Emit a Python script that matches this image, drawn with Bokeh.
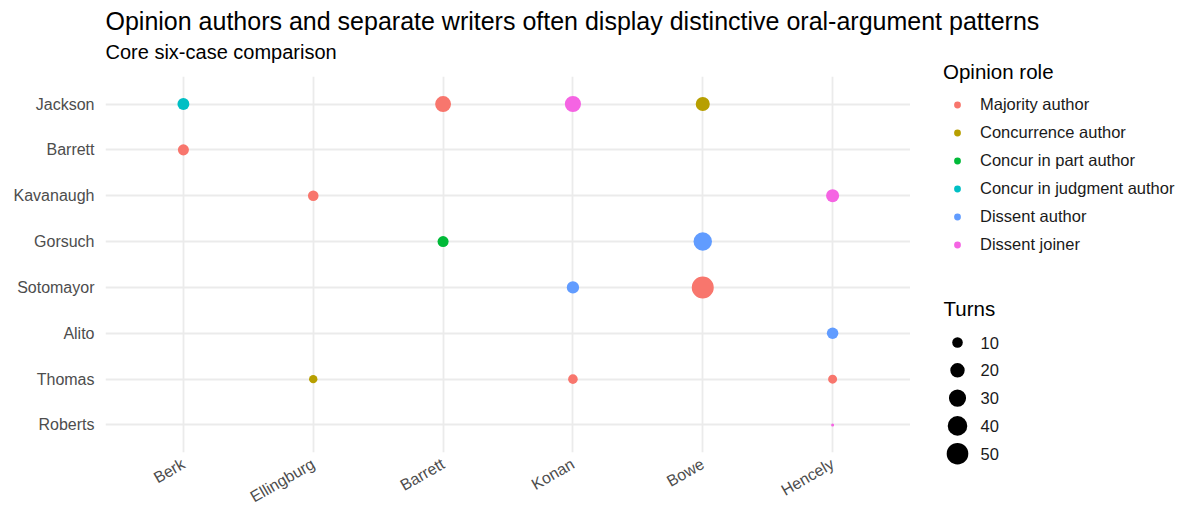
import numpy as np
from bokeh.plotting import figure
from bokeh.layouts import row, column
from bokeh.models import (ColumnDataSource, Legend, LegendItem, Label, FixedTicker, Range1d)
from bokeh.core.properties import value
from bokeh.embed import file_html
from bokeh.resources import INLINE

# ---- data ----
title_text = "Opinion authors and separate writers often display distinctive oral-argument patterns"
subtitle_text = "Core six-case comparison"
cases = ["Berk", "Ellingburg", "Barrett", "Konan", "Bowe", "Hencely"]
justices = ["Jackson", "Barrett", "Kavanaugh", "Gorsuch", "Sotomayor", "Alito", "Thomas", "Roberts"]
roles = ["Majority author", "Concurrence author", "Concur in part author",
         "Concur in judgment author", "Dissent author", "Dissent joiner"]
role_colors = ["#F8766D", "#B79F00", "#00BA38", "#00BFC4", "#619CFF", "#F564E3"]

pt_justice = ["Jackson", "Jackson", "Jackson", "Jackson",
              "Barrett", "Kavanaugh", "Kavanaugh", "Gorsuch", "Gorsuch",
              "Sotomayor", "Sotomayor", "Alito", "Thomas", "Thomas", "Thomas", "Roberts"]
pt_case = ["Berk", "Barrett", "Konan", "Bowe",
           "Berk", "Ellingburg", "Hencely", "Barrett", "Bowe",
           "Konan", "Bowe", "Hencely", "Ellingburg", "Konan", "Hencely", "Hencely"]
pt_role = ["Concur in judgment author", "Majority author", "Dissent joiner", "Concurrence author",
           "Majority author", "Majority author", "Dissent joiner", "Concur in part author", "Dissent author",
           "Dissent author", "Majority author", "Dissent author", "Concurrence author", "Majority author",
           "Majority author", "Dissent joiner"]
pt_turns = [13, 25, 26, 19,
            11, 10, 16, 11, 35,
            14, 52, 12, 6, 8, 7, 2]

size_breaks = [10, 20, 30, 40, 50]

T_MIN, T_MAX = min(pt_turns), max(pt_turns)
D_MIN, D_MAX = 3.0, 22.0


def size_px(t):
    t = np.asarray(t, dtype=float)
    return D_MIN + (D_MAX - D_MIN) * np.sqrt((t - T_MIN) / (T_MAX - T_MIN))


FONT = "Liberation Sans"


def blank(w, h):
    f = figure(width=w, height=h, output_backend="svg", toolbar_location=None,
               x_range=Range1d(0, w), y_range=Range1d(0, h),
               min_border_left=0, min_border_right=0, min_border_top=0, min_border_bottom=0)
    f.axis.visible = False
    f.grid.visible = False
    f.outline_line_color = None
    f.background_fill_color = "white"
    f.border_fill_color = "white"
    f.frame_align = False
    return f


# ---- title strip (full width) ----
tf = blank(1184, 40)
tf.add_layout(Label(x=105, y=20, text=title_text, text_font=FONT, text_font_size="25px",
                    text_color="black", text_baseline="middle", text_align="left"))

# ---- subtitle strip ----
sf = blank(910, 36)
sf.add_layout(Label(x=105, y=25, text=subtitle_text, text_font=FONT, text_font_size="20px",
                    text_color="black", text_baseline="middle", text_align="left"))

# ---- main plot ----
xs = [cases.index(c) + 1 for c in pt_case]
ys = [len(justices) - justices.index(j) for j in pt_justice]
cols = [role_colors[roles.index(r)] for r in pt_role]
src = ColumnDataSource(dict(x=xs, y=ys, color=cols, size=size_px(pt_turns), turns=pt_turns))

p = figure(frame_width=805, frame_height=376, output_backend="svg", toolbar_location=None,
           x_range=Range1d(0.4, len(cases) + 0.6), y_range=Range1d(0.4, len(justices) + 0.6),
           min_border_left=105, min_border_right=0, min_border_top=0, min_border_bottom=58)
p.outline_line_color = None
p.background_fill_color = "white"
p.border_fill_color = "white"
p.frame_align = False

p.xaxis.ticker = FixedTicker(ticks=list(range(1, len(cases) + 1)))
p.xaxis.major_label_overrides = {i + 1: c for i, c in enumerate(cases)}
p.yaxis.ticker = FixedTicker(ticks=list(range(1, len(justices) + 1)))
p.yaxis.major_label_overrides = {len(justices) - i: j for i, j in enumerate(justices)}
for ax in (p.xaxis, p.yaxis):
    ax.axis_line_color = None
    ax.major_tick_line_color = None
    ax.minor_tick_line_color = None
    ax.major_label_text_font = FONT
    ax.major_label_text_font_size = "16px"
    ax.major_label_text_color = "#4D4D4D"
p.xaxis.major_label_orientation = np.pi / 6
p.xaxis.major_label_standoff = 4
p.yaxis.major_label_standoff = 5

p.xgrid.grid_line_color = "#EBEBEB"
p.ygrid.grid_line_color = "#EBEBEB"
p.xgrid.grid_line_width = 1.8
p.ygrid.grid_line_width = 1.8
p.xgrid.ticker = p.xaxis.ticker
p.ygrid.ticker = p.yaxis.ticker

p.scatter("x", "y", source=src, size="size", fill_color="color", line_color=None)

# ---- legend panel ----
LP_W, LP_H = 274, 470
lp = blank(LP_W, LP_H)
nan = [float("nan")]
role_items = []
for r, c in zip(roles, role_colors):
    rr = lp.scatter(x=nan, y=nan, size=6, fill_color=c, line_color=None)
    role_items.append(LegendItem(label=r, renderers=[rr]))

leg1 = Legend(items=role_items, title="Opinion role", location=(33, 256),
              border_line_color=None, background_fill_alpha=0, padding=0, margin=0,
              spacing=8, glyph_width=28, glyph_height=17, label_height=20,
              label_text_font=FONT, label_text_font_size="16.5px", label_text_color="#1a1a1a",
              label_standoff=9, title_text_font=FONT, title_text_font_size="20.5px",
              title_text_font_style="normal", title_text_color="black", title_standoff=10)
lp.add_layout(leg1, "center")

# size legend ("Turns"), drawn with the same size scale as the points
KEY_X, KEY_LABEL_X, KEY_TOP, KEY_STEP = 47, 70, 168, 27.8
key_src = ColumnDataSource(dict(
    x=[KEY_X] * len(size_breaks),
    lx=[KEY_LABEL_X] * len(size_breaks),
    y=[KEY_TOP - KEY_STEP * i for i in range(len(size_breaks))],
    size=size_px(size_breaks),
    label=[str(b) for b in size_breaks]))
lp.scatter("x", "y", source=key_src, size="size", fill_color="black", line_color=None)
lp.text("lx", "y", text="label", source=key_src, text_font=value(FONT), text_font_size="16.5px",
        text_color="#1a1a1a", text_baseline="middle", text_align="left")
lp.add_layout(Label(x=33, y=KEY_TOP + 34, text="Turns", text_font=FONT, text_font_size="20.5px",
                    text_color="black", text_baseline="middle", text_align="left"))

layout = column(tf, row(column(sf, p), lp))
open("out.html", "w").write(file_html(layout, INLINE))
